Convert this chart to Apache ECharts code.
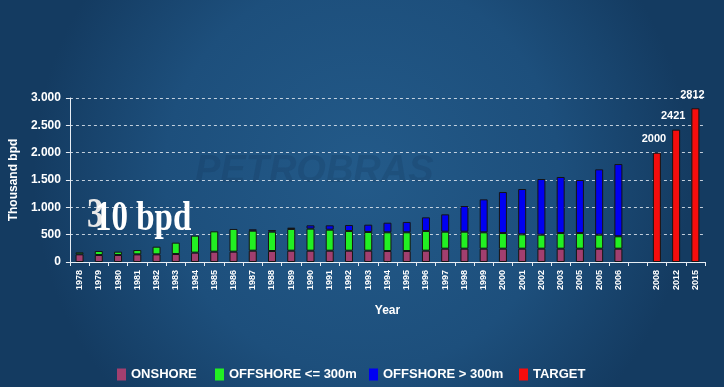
<!DOCTYPE html>
<html>
<head>
<meta charset="utf-8">
<script src="https://cdn.jsdelivr.net/npm/echarts@6/dist/echarts.min.js"></script>
<style>
html,body{margin:0;padding:0;background:#1a4a74;}
#chart{width:724px;height:387px;}
</style>
</head>
<body>
<div id="chart"></div>
<script>
// ---- data ----
const histYears = ['1978','1979','1980','1981','1982','1983','1984','1985','1986','1987','1988','1989','1990','1991','1992','1993','1994','1995','1996','1997','1998','1999','2000','2001','2002','2003','2005','2005','2006'];
const targetYears = ['2008','2012','2015'];
const onshore = [140,128,128,140,140,146,171,189,189,207,201,207,207,207,207,207,201,201,207,244,244,244,244,244,244,244,244,244,244];
const offshoreShallow = [37,73,61,79,140,208,311,372,415,366,354,397,403,384,360,342,342,342,360,311,311,299,286,262,256,286,286,256,226];
const offshoreDeep = [0,0,0,0,0,0,0,0,0,24,30,24,61,80,110,134,176,189,250,317,469,603,750,829,1018,1025,970,1195,1322];
const target = [2000,2421,2812];
const yTicks = [0,500,1000,1500,2000,2500,3000];
const seriesNames = ['ONSHORE','OFFSHORE <= 300m','OFFSHORE > 300m','TARGET'];

// ---- build ----
const categories = histYears.concat(['']).concat(targetYears);
const gapCount = 1;
function pad(arr, before, after){
  const out = [];
  for(let i=0;i<before;i++) out.push(null);
  arr.forEach(v=>out.push(v===0?null:v));
  for(let i=0;i<after;i++) out.push(null);
  return out;
}
const nAfterHist = gapCount + targetYears.length;
const nBeforeTarget = histYears.length + gapCount;

const font = "'Liberation Sans', Arial, sans-serif";
const colors = ['#a23f6f','#22f022','#0000f2','#f50d0d'];

const chart = echarts.init(document.getElementById('chart'), null, {renderer:'canvas'});
const legendLefts = [112, 210, 364, 514];
const option = {
  backgroundColor: {
    type:'radial', x:0.5, y:0.45, r:0.85,
    colorStops:[{offset:0,color:'#235a89'},{offset:0.6,color:'#1d4f7c'},{offset:1,color:'#143b61'}]
  },
  animation:false,
  graphic:[
    {type:'text', left:195, top:153, z:0,
     style:{text:'PETROBRAS', fill:'rgba(15,45,80,0.18)', font:"italic bold 38px 'Liberation Sans', Arial"}},
    {type:'text', left:87, top:196, z:10, scaleY:1.25,
     style:{text:'3', fill:'#e8e8e8', font:"bold 33px 'Liberation Serif', 'DejaVu Serif', serif"}},
    {type:'text', left:95, top:199, z:11, scaleY:1.25,
     style:{text:'10 bpd', fill:'#ffffff', font:"bold 33px 'Liberation Serif', 'DejaVu Serif', serif"}}
  ],
  legend: seriesNames.map((n,i)=>({
    data:[n], left:legendLefts[i], top:363, itemWidth:9, itemHeight:12, itemGap:10,
    icon:'rect',
    itemStyle:{borderWidth:0},
    textStyle:{color:'#ffffff', fontSize:13, fontWeight:'bold', fontFamily:font},
    selectedMode:false
  })),
  grid:{left:60, right:19, top:98, bottom:125},
  xAxis:{
    type:'category', data:categories,
    name:'Year', nameLocation:'middle', nameGap:43,
    nameTextStyle:{color:'#ffffff', fontSize:12, fontWeight:'bold', fontFamily:font},
    axisLine:{lineStyle:{color:'#e8eef5', width:1}},
    axisTick:{show:true, length:4, lineStyle:{color:'#e8eef5'}},
    axisLabel:{rotate:90, color:'#ffffff', fontSize:9, fontWeight:'bold', fontFamily:font, interval:0, margin:8}
  },
  yAxis:{
    type:'value', min:yTicks[0], max:yTicks[yTicks.length-1], interval:500,
    name:'Thousand bpd', nameLocation:'middle', nameGap:43, nameRotate:90,
    nameTextStyle:{color:'#ffffff', fontSize:12, fontWeight:'bold', fontFamily:font},
    axisLine:{show:true, lineStyle:{color:'#e8eef5', width:1}},
    axisTick:{show:true, length:4, lineStyle:{color:'#e8eef5'}},
    axisLabel:{color:'#ffffff', fontSize:12, fontWeight:'bold', fontFamily:font, margin:9,
      formatter:v=> v>=1000 ? Math.floor(v/1000)+'.'+String(v%1000).padStart(3,'0') : String(v)},
    splitLine:{show:true, lineStyle:{color:'rgba(225,232,240,0.85)', type:[3,3], width:1}}
  },
  series:[
    {name:seriesNames[0], type:'bar', stack:'a', barWidth:8, data:pad(onshore,0,nAfterHist),
     itemStyle:{color:colors[0], borderColor:'#151515', borderWidth:1}},
    {name:seriesNames[1], type:'bar', stack:'a', barWidth:8, data:pad(offshoreShallow,0,nAfterHist),
     itemStyle:{color:colors[1], borderColor:'#151515', borderWidth:1}},
    {name:seriesNames[2], type:'bar', stack:'a', barWidth:8, data:pad(offshoreDeep,0,nAfterHist),
     itemStyle:{color:colors[2], borderColor:'#151515', borderWidth:1}},
    {name:seriesNames[3], type:'bar', stack:'a', barWidth:8, data:pad(target,nBeforeTarget,0),
     itemStyle:{color:colors[3], borderColor:'#151515', borderWidth:1},
     label:{show:true, position:'top', distance:8, offset:[-3,0], color:'#ffffff', fontSize:11, fontWeight:'bold', fontFamily:font}}
  ]
};
chart.setOption(option);
</script>
</body>
</html>
